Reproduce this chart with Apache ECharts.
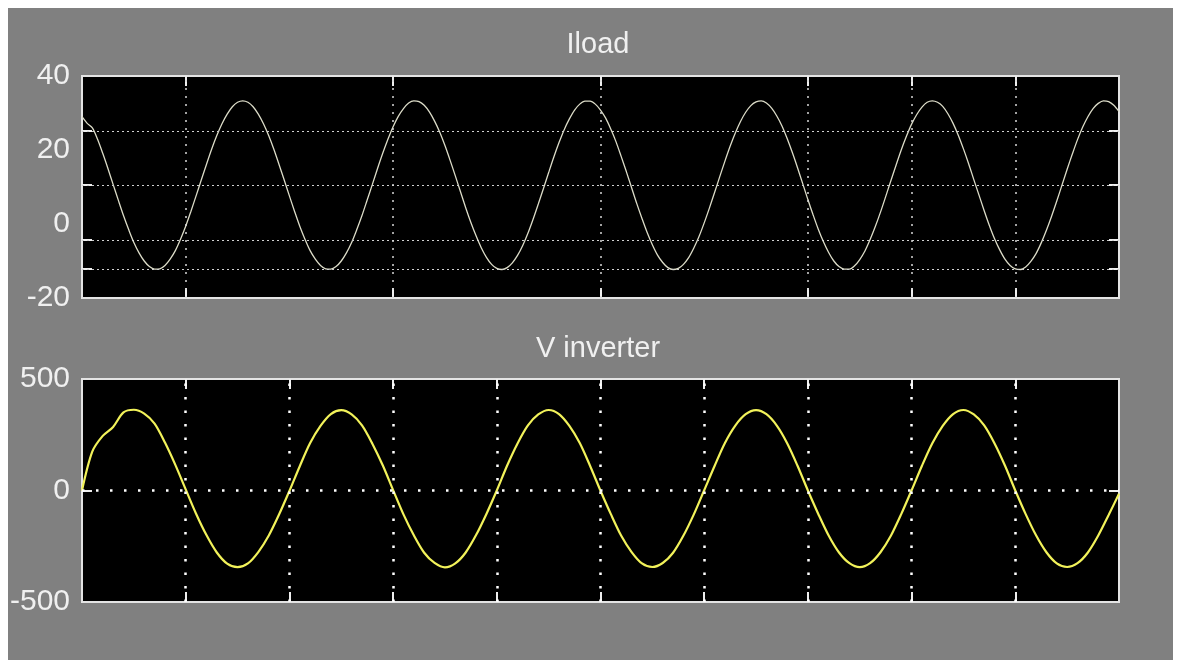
<!DOCTYPE html>
<html>
<head>
<meta charset="utf-8">
<script src="https://cdn.jsdelivr.net/npm/echarts@6/dist/echarts.min.js"></script>
<style>
html, body { margin: 0; padding: 0; background: #ffffff; }
#bg { position: absolute; left: 8px; top: 8px; width: 1165px; height: 652px; background: #808080; }
#chart { position: absolute; left: 0; top: 0; width: 1177px; height: 660px; }
</style>
</head>
<body>
<div id="bg"></div>
<div id="chart"></div>
<script>
// ---- data (x in screen divisions, 0..10) ----
const timeMin = 0;
const timeMax = 10;
const iloadStep = 0.05;
const vinvStep = 0.1;

const iloadValues = [
  29, 27.2, 26.0, 22.9, 19.1, 15.0, 10.7, 6.45, 2.3, -1.5,
  -5.0, -7.8, -10.0, -11.5, -12.2, -12.1, -11.2, -9.5, -7.2, -4.1,
  -0.6, 3.4, 7.6, 11.9, 16.1, 20.2, 23.9, 27.1, 29.7, 31.7,
  32.9, 33.3, 32.9, 31.7, 29.7, 27.1, 23.9, 20.2, 16.1, 11.9,
  7.6, 3.4, -0.6, -4.1, -7.2, -9.5, -11.2, -12.1, -12.2, -11.5,
  -10.0, -7.8, -5.0, -1.5, 2.3, 6.5, 10.7, 15.0, 19.1, 22.9,
  26.3, 29.1, 31.2, 32.7, 33.3, 33.1, 32.1, 30.3, 27.8, 24.8,
  21.2, 17.2, 13.0, 8.7, 4.4, 0.4, -3.2, -6.4, -9.0, -10.9,
  -12.0, -12.3, -11.8, -10.5, -8.5, -5.8, -2.5, 1.3, 5.4, 9.6,
  13.9, 18.1, 22.0, 25.5, 28.4, 30.8, 32.4, 33.2, 33.2, 32.4,
  30.8, 28.6, 25.6, 22.2, 18.2, 14.1, 9.8, 5.5, 1.5, -2.3,
  -5.6, -8.4, -10.4, -11.8, -12.3, -12.0, -10.9, -9.1, -6.5, -3.4,
  0.3, 4.3, 8.5, 12.8, 17.0, 21.0, 24.6, 27.7, 30.2, 32.0,
  33.0, 33.3, 32.7, 31.3, 29.2, 26.5, 23.1, 19.3, 15.2, 10.9,
  6.6, 2.5, -1.4, -4.8, -7.7, -10.0, -11.5, -12.2, -12.2, -11.3,
  -9.6, -7.3, -4.2, -0.7, 3.2, 7.4, 11.7, 15.9, 20.0, 23.7,
  27.0, 29.6, 31.6, 32.9, 33.3, 32.9, 31.8, 29.8, 27.2, 24.0,
  20.3, 16.3, 12.0, 7.8, 3.6, -0.4, -4.0, -7.0, -9.5, -11.2,
  -12.1, -12.3, -11.6, -10.1, -8.0, -5.1, -1.7, 2.1, 6.2, 10.5,
  14.8, 18.9, 22.8, 26.2, 29.0, 31.2, 32.6, 33.3, 33.1, 32.1,
  30.4
];

const vinvValues = [
  0, 175, 245, 285, 350, 362, 345, 300, 215, 115,
  5, -104, -200, -278, -328, -344, -327, -276, -203, -108,
  -2, 109, 213, 290, 343, 360, 341, 292, 210, 113,
  2, -107, -201, -279, -325, -345, -327, -278, -200, -105,
  0, 112, 211, 292, 341, 361, 343, 290, 213, 110,
  -1, -106, -203, -276, -327, -343, -325, -279, -202, -107,
  1, 110, 213, 291, 342, 360, 342, 291, 212, 111,
  0, -105, -202, -278, -326, -344, -326, -277, -203, -106,
  1, 111, 212, 290, 343, 361, 341, 292, 211, 112,
  0, -106, -201, -277, -327, -343, -326, -278, -202, -110,
  -15
];

const titles = ['Iload', 'V inverter'];
const iloadTicks = [-20, 0, 20, 40];
const vinvTicks = [-500, 0, 500];
const iloadHGrid = [25.1, 10.5, -4.3, -12.2];
const iloadVGrid = [1, 3, 5, 7, 8, 9];
const vinvHGrid = [0];
const vinvVGrid = [1, 2, 3, 4, 5, 6, 7, 8, 9];

// ---- styling ----
const FONT = 'Liberation Sans, Arial, sans-serif';
const TEXT = '#f0f0f0';
const BORDER = '#e4e4e4';

function toPairs(vals, step) { return vals.map((v, i) => [timeMin + i * step, v]); }

function tickStyle(vals) {
  return { show: true, inside: true, length: 10, customValues: vals, lineStyle: { color: '#eeeeee', width: 2 } };
}

function xAxesFor(gi, vTicks) {
  const base = { gridIndex: gi, type: 'value', min: timeMin, max: timeMax,
    axisLine: { show: false, onZero: false }, axisLabel: { show: false }, splitLine: { show: false } };
  return [
    Object.assign({}, base, { position: 'bottom', axisTick: tickStyle(vTicks) }),
    Object.assign({}, base, { position: 'top', axisTick: tickStyle(vTicks) })
  ];
}

function yAxesFor(gi, ticks, hTicks) {
  const min = ticks[0], max = ticks[ticks.length - 1], interval = ticks[1] - ticks[0];
  const base = { gridIndex: gi, type: 'value', min: min, max: max, interval: interval,
    axisLine: { show: false, onZero: false }, splitLine: { show: false } };
  return [
    Object.assign({}, base, { position: 'left', axisTick: tickStyle(hTicks),
      axisLabel: { show: true, color: TEXT, fontSize: 30, fontFamily: FONT, margin: 12 } }),
    Object.assign({}, base, { position: 'right', axisTick: tickStyle(hTicks), axisLabel: { show: false } })
  ];
}

function gridLines(hVals, vVals, hStyle, vStyle) {
  return [].concat(
    hVals.map(v => ({ yAxis: v, lineStyle: hStyle })),
    vVals.map(v => ({ xAxis: v, lineStyle: vStyle }))
  );
}

const chart = echarts.init(document.getElementById('chart'), null, { renderer: 'canvas' });

const option = {
  animation: false,
  backgroundColor: 'transparent',
  grid: [
    { left: 82, top: 76, width: 1037, height: 222, show: true, backgroundColor: '#000000', borderColor: BORDER, borderWidth: 2 },
    { left: 82, top: 379, width: 1037, height: 223, show: true, backgroundColor: '#000000', borderColor: BORDER, borderWidth: 2 }
  ],
  xAxis: [].concat(xAxesFor(0, iloadVGrid), xAxesFor(1, vinvVGrid)),
  yAxis: [].concat(yAxesFor(0, iloadTicks, iloadHGrid), yAxesFor(1, vinvTicks, vinvHGrid)),
  graphic: [
    { type: 'text', x: 598, y: 45, style: { text: titles[0], fill: TEXT, font: '29px ' + FONT, align: 'center', verticalAlign: 'middle' } },
    { type: 'text', x: 598, y: 349, style: { text: titles[1], fill: TEXT, font: '29px ' + FONT, align: 'center', verticalAlign: 'middle' } }
  ],
  series: [
    {
      name: titles[0], type: 'line', xAxisIndex: 0, yAxisIndex: 0,
      data: toPairs(iloadValues, iloadStep), showSymbol: false, smooth: 0.3,
      lineStyle: { color: '#dcdcc8', width: 1.3 },
      markLine: {
        silent: true, symbol: 'none', label: { show: false }, animation: false,
        data: gridLines(iloadHGrid, iloadVGrid,
          { type: [2, 3], color: '#d0d0d0', width: 1 },
          { type: [2, 6], color: '#d8d8d8', width: 1.5 })
      }
    },
    {
      name: titles[1], type: 'line', xAxisIndex: 2, yAxisIndex: 2,
      data: toPairs(vinvValues, vinvStep), showSymbol: false, smooth: 0.3,
      lineStyle: { color: '#f2f25a', width: 2.2 },
      markLine: {
        silent: true, symbol: 'none', label: { show: false }, animation: false,
        data: gridLines(vinvHGrid, vinvVGrid,
          { type: [2.5, 11.5], color: '#ffffff', width: 2.5 },
          { type: [2.5, 11], color: '#ffffff', width: 2.5 })
      }
    }
  ]
};

chart.setOption(option);
</script>
</body>
</html>
